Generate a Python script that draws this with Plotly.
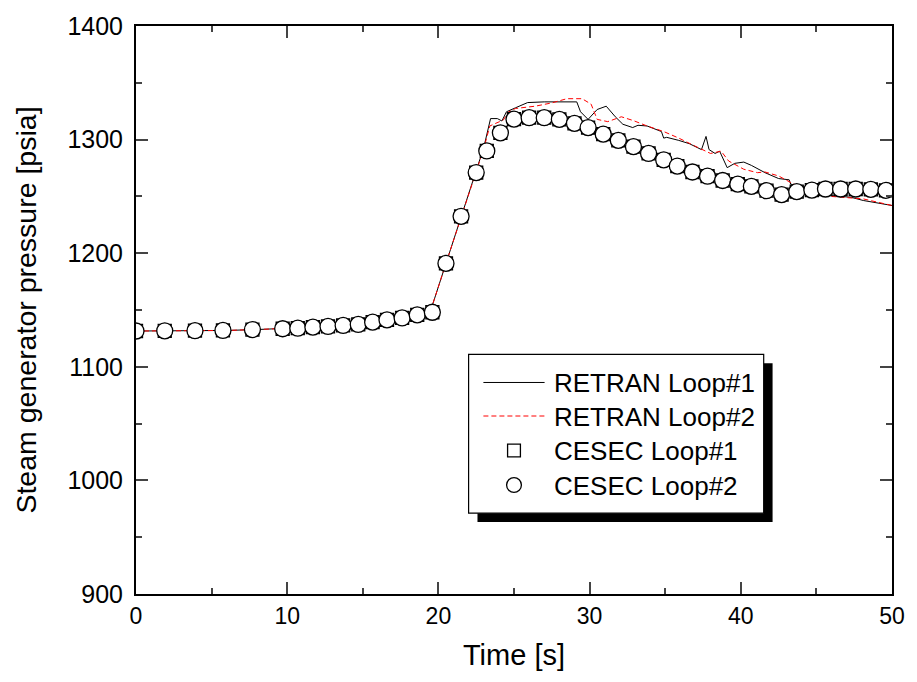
import plotly.graph_objects as go

# ---------------- data ----------------
t_retran1 = [0, 2, 4, 6, 8, 10, 12, 14, 15, 16, 17, 18, 19, 19.5, 20.5, 21.5, 22.5, 23.0, 23.45, 23.9,
             24.2, 24.5, 25.1, 25.9, 27.0, 29.15, 29.4, 29.9, 30.5, 31.1, 31.7, 32.2, 32.85, 33.2, 33.8,
             34.75, 34.9, 35.1, 35.9, 36.6, 37.4, 37.7, 37.9, 38.3, 38.6, 39.1, 39.6, 40.2, 40.7, 41.6,
             42.5, 43.2, 43.3, 43.8, 44.9, 45.95, 47.3, 48.1, 50]
p_retran1 = [1131.5, 1131.6, 1131.7, 1132, 1132.8, 1133.6, 1135, 1136.7, 1137.9, 1139.8, 1141.8, 1144,
             1146.5, 1150, 1191, 1232, 1272, 1293, 1318.5, 1318.5, 1316.4, 1324.5, 1328, 1332.6, 1333.2,
             1333.2, 1324.5, 1317.8, 1326.5, 1329.4, 1320.1, 1313.5, 1310.6, 1312.6, 1312, 1307.1, 1301.3,
             1302, 1299.3, 1296.4, 1291.2, 1302.8, 1291.2, 1287.8, 1289.8, 1275.3, 1279.1, 1280.2, 1277.3,
             1270.9, 1265.7, 1264.6, 1260.8, 1259.4, 1252.7, 1250.7, 1249.2, 1246.4, 1242]

t_retran2 = [0, 2, 4, 6, 8, 10, 12, 14, 15, 16, 17, 18, 19, 19.5, 20.5, 21.5, 22.5, 23.0, 23.4, 23.8,
             24.3, 24.6, 25.1, 26.4, 27.5, 28.5, 29.5, 30.1, 30.5, 31.2, 32.1, 32.9, 33.8, 34.9, 35.9,
             37.0, 38.0, 38.7, 39.2, 40.2, 41.1, 41.6, 42.5, 43.3, 44.0, 45.95, 48.1, 50]
p_retran2 = [1131.5, 1131.6, 1131.7, 1132, 1132.8, 1133.6, 1135, 1136.7, 1137.9, 1139.8, 1141.8, 1144,
             1146.5, 1150, 1191, 1232, 1272, 1292, 1312, 1314.3, 1317.3, 1324, 1327.4, 1329.4, 1332.3,
             1336, 1336, 1331.2, 1317.8, 1315.8, 1320.1, 1316.7, 1312, 1307.1, 1301.3, 1294.1, 1287.8,
             1289.8, 1281.1, 1273.9, 1270.9, 1271.5, 1268, 1262.2, 1257.9, 1250, 1247.8, 1242]

t_cesec = [0, 1.9, 3.9, 5.75, 7.7, 9.7, 10.7, 11.7, 12.7, 13.7, 14.7, 15.65, 16.6, 17.6, 18.6, 19.6,
           20.5, 21.5, 22.5, 23.2, 24.1, 25.0, 26.0, 27.0, 28.0, 29.0, 29.9, 30.9, 31.9, 32.9, 33.9,
           34.9, 35.8, 36.8, 37.8, 38.8, 39.8, 40.7, 41.7, 42.7, 43.7, 44.7, 45.6, 46.6, 47.6, 48.6, 49.6]
p_cesec1 = [1131.5, 1131.7, 1131.8, 1132, 1132.8, 1133.5, 1134, 1134.9, 1135.5, 1136.4, 1137.3, 1139.3,
            1141.3, 1143, 1145.7, 1148, 1191, 1232.5, 1271, 1290, 1306, 1318, 1319.3, 1319.3, 1317.8,
            1314.3, 1310.6, 1304.8, 1299.3, 1293.8, 1287.8, 1282.2, 1276.7, 1271.5, 1267.8, 1264,
            1260.8, 1258.8, 1255, 1251.6, 1254.2, 1255.6, 1256.5, 1256.5, 1256.5, 1256.2, 1255.3]
p_cesec2 = list(p_cesec1)

x_ticks = [0, 10, 20, 30, 40, 50]
y_ticks = [900, 1000, 1100, 1200, 1300, 1400]
legend_labels = ["RETRAN Loop#1", "RETRAN Loop#2", "CESEC Loop#1", "CESEC Loop#2"]

FONT = "Liberation Sans, Arial, sans-serif"
RED_DASH = "5px,3px"

fig = go.Figure()
fig.add_trace(go.Scatter(x=t_retran1, y=p_retran1, mode="lines", name=legend_labels[0],
                         line=dict(color="black", width=1)))
fig.add_trace(go.Scatter(x=t_retran2, y=p_retran2, mode="lines", name=legend_labels[1],
                         line=dict(color="red", width=1, dash=RED_DASH)))
fig.add_trace(go.Scatter(x=t_cesec, y=p_cesec1, mode="markers", name=legend_labels[2],
                         marker=dict(symbol="square", size=13, color="white",
                                     line=dict(color="black", width=1.3))))
fig.add_trace(go.Scatter(x=t_cesec, y=p_cesec2, mode="markers", name=legend_labels[3],
                         marker=dict(symbol="circle", size=16, color="white",
                                     line=dict(color="black", width=1.3))))

W, H = 917, 682
L, R, T, B = 136, 15, 18, 88
pw, ph = W - L - R, H - T - B

def px_x(x):
    return (x - L) / pw

def px_y(y):
    return (H - B - y) / ph

# ---- legend (box with drop shadow) ----
bx0, by0, bx1, by1 = 473, 351, 772, 512
sh = 9
fig.add_shape(type="rect", xref="paper", yref="paper",
              x0=px_x(bx0 + sh), y0=px_y(by1 + sh), x1=px_x(bx1 + sh), y1=px_y(by0 + sh),
              fillcolor="black", line=dict(width=0), layer="above")
fig.add_shape(type="rect", xref="paper", yref="paper",
              x0=px_x(bx0), y0=px_y(by1), x1=px_x(bx1), y1=px_y(by0),
              fillcolor="white", line=dict(color="black", width=1.2), layer="above")

rows = [379.5, 413.5, 448.5, 483.5]
sx0, sx1, scx, tx = 488, 550, 519, 558
fig.add_shape(type="line", xref="paper", yref="paper", x0=px_x(sx0), x1=px_x(sx1),
              y0=px_y(rows[0]), y1=px_y(rows[0]), line=dict(color="black", width=1), layer="above")
fig.add_shape(type="line", xref="paper", yref="paper", x0=px_x(sx0), x1=px_x(sx1),
              y0=px_y(rows[1]), y1=px_y(rows[1]), line=dict(color="red", width=1, dash=RED_DASH),
              layer="above")
hs = 6.5
fig.add_shape(type="rect", xref="paper", yref="paper", x0=px_x(scx - hs), x1=px_x(scx + hs),
              y0=px_y(rows[2] + hs), y1=px_y(rows[2] - hs), fillcolor="white",
              line=dict(color="black", width=1.3), layer="above")
hc = 7.5
fig.add_shape(type="circle", xref="paper", yref="paper", x0=px_x(scx - hc), x1=px_x(scx + hc),
              y0=px_y(rows[3] + hc), y1=px_y(rows[3] - hc), fillcolor="white",
              line=dict(color="black", width=1.3), layer="above")
for lab, ry in zip(legend_labels, rows):
    fig.add_annotation(text=lab, xref="paper", yref="paper", x=px_x(tx), y=px_y(ry + 0.5),
                       xanchor="left", yanchor="middle", showarrow=False,
                       font=dict(size=26, family=FONT, color="black"))

fig.update_layout(
    width=W, height=H,
    margin=dict(l=L, r=R, t=T, b=B, pad=0),
    paper_bgcolor="white", plot_bgcolor="white",
    font=dict(family=FONT, color="black"),
    showlegend=False,
    xaxis=dict(range=[0, 50], tickvals=x_ticks, ticks="inside", ticklen=12, tickwidth=1.5,
               showline=True, linewidth=2, linecolor="black", mirror="ticks", showgrid=False,
               zeroline=False, tickfont=dict(size=23, family=FONT),
               minor=dict(ticks="inside", ticklen=6, tickwidth=1.5, dtick=5, showgrid=False),
               title=dict(text="Time [s]", font=dict(size=29, family=FONT), standoff=17)),
    yaxis=dict(range=[900, 1400], tickvals=y_ticks, ticks="inside", ticklen=12, tickwidth=1.5,
               showline=True, linewidth=2, linecolor="black", mirror="ticks", showgrid=False,
               zeroline=False, tickfont=dict(size=25, family=FONT), ticklabelstandoff=6,
               minor=dict(ticks="inside", ticklen=6, tickwidth=1.5, dtick=50, showgrid=False),
               title=dict(text="Steam generator pressure [psia]", font=dict(size=28.5, family=FONT),
                          standoff=22)),
)

fig.write_html("out.html")
